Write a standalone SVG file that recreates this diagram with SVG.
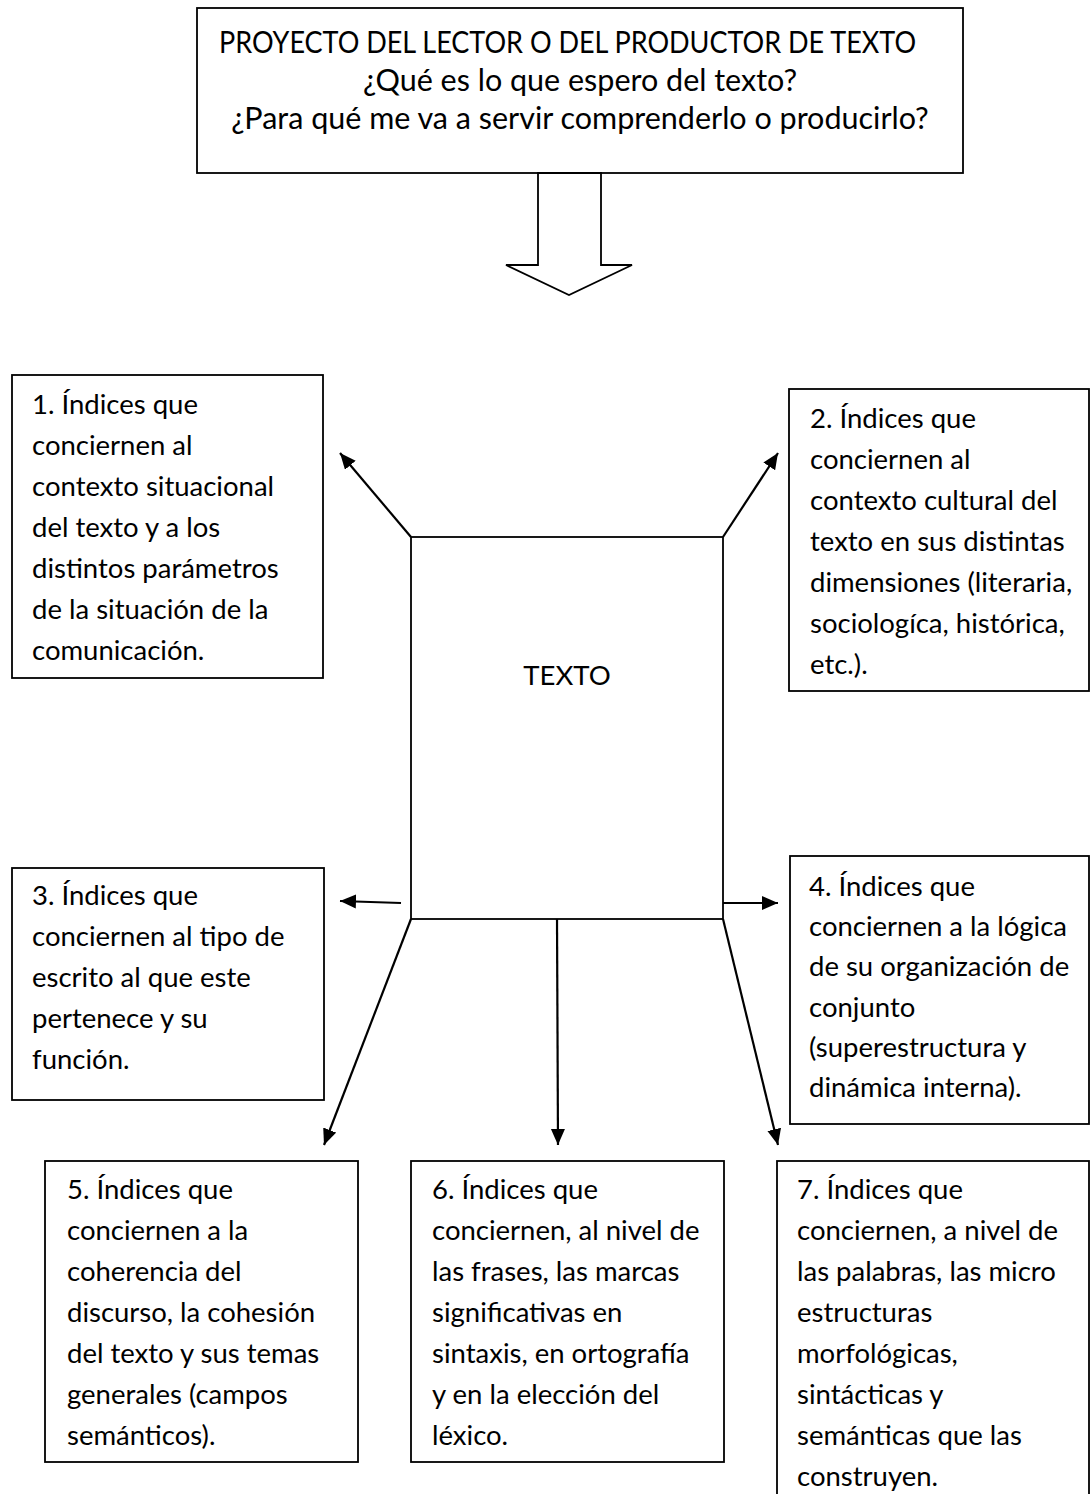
<svg xmlns="http://www.w3.org/2000/svg" width="1091" height="1494" viewBox="0 0 1091 1494">
<style>
.box{fill:#fff;stroke:#000;stroke-width:1.8}
.t{font-family:Lato,"Liberation Sans",sans-serif;font-size:27.5px;fill:#000}
.h{font-family:Lato,"Liberation Sans",sans-serif;font-size:30.5px;fill:#000}
.c{stroke:#000;stroke-width:2.2;fill:none}
</style>
<defs>
<marker id="ah" markerUnits="userSpaceOnUse" markerWidth="18" markerHeight="16" refX="16" refY="7" orient="auto" viewBox="0 0 18 16">
<path d="M0,0 L16,7 L0,14 z" fill="#000"/>
</marker>
</defs>
<rect width="1091" height="1494" fill="#fff"/>

<g id="proyecto">
<rect class="box" x="197" y="8" width="766" height="165"/>
<text class="h" x="219" y="53" textLength="697" lengthAdjust="spacingAndGlyphs">PROYECTO DEL LECTOR O DEL PRODUCTOR DE TEXTO</text>
<text class="h" x="580" y="91" text-anchor="middle">¿Qué es lo que espero del texto?</text>
<text class="h" x="580" y="129" text-anchor="middle">¿Para qué me va a servir comprenderlo o producirlo?</text>
</g>

<g id="flecha-grande">
<polygon class="box" points="538,173 601,173 601,265 632,265 569,295 506,265 538,265"/>
</g>

<g id="texto">
<rect class="box" x="411" y="537" width="312" height="382"/>
<text class="t" x="567" y="685" text-anchor="middle">TEXTO</text>
</g>

<g id="n1">
<rect class="box" x="12" y="375" width="311" height="303"/>
<text class="t"><tspan x="32" y="414">1. Índices que</tspan><tspan x="32" y="455">conciernen al</tspan><tspan x="32" y="496">contexto situacional</tspan><tspan x="32" y="537">del texto y a los</tspan><tspan x="32" y="578">distintos parámetros</tspan><tspan x="32" y="619">de la situación de la</tspan><tspan x="32" y="660">comunicación.</tspan></text>
</g>

<g id="n2">
<rect class="box" x="789" y="389" width="300" height="302"/>
<text class="t"><tspan x="810" y="428">2. Índices que</tspan><tspan x="810" y="469">conciernen al</tspan><tspan x="810" y="510">contexto cultural del</tspan><tspan x="810" y="551">texto en sus distintas</tspan><tspan x="810" y="592">dimensiones (literaria,</tspan><tspan x="810" y="633">sociologíca, histórica,</tspan><tspan x="810" y="674">etc.).</tspan></text>
</g>

<g id="n3">
<rect class="box" x="12" y="868" width="312" height="232"/>
<text class="t"><tspan x="32" y="905">3. Índices que</tspan><tspan x="32" y="946">conciernen al tipo de</tspan><tspan x="32" y="987">escrito al que este</tspan><tspan x="32" y="1028">pertenece y su</tspan><tspan x="32" y="1069">función.</tspan></text>
</g>

<g id="n4">
<rect class="box" x="790" y="856" width="299" height="268"/>
<text class="t"><tspan x="809" y="896">4. Índices que</tspan><tspan x="809" y="936">conciernen a la lógica</tspan><tspan x="809" y="976">de su organización de</tspan><tspan x="809" y="1017">conjunto</tspan><tspan x="809" y="1057">(superestructura y</tspan><tspan x="809" y="1097">dinámica interna).</tspan></text>
</g>

<g id="n5">
<rect class="box" x="45" y="1161" width="313" height="301"/>
<text class="t"><tspan x="67" y="1199">5. Índices que</tspan><tspan x="67" y="1240">conciernen a la</tspan><tspan x="67" y="1281">coherencia del</tspan><tspan x="67" y="1322">discurso, la cohesión</tspan><tspan x="67" y="1363">del texto y sus temas</tspan><tspan x="67" y="1404">generales (campos</tspan><tspan x="67" y="1445">semánticos).</tspan></text>
</g>

<g id="n6">
<rect class="box" x="411" y="1161" width="313" height="301"/>
<text class="t"><tspan x="432" y="1199">6. Índices que</tspan><tspan x="432" y="1240">conciernen, al nivel de</tspan><tspan x="432" y="1281">las frases, las marcas</tspan><tspan x="432" y="1322">significativas en</tspan><tspan x="432" y="1363">sintaxis, en ortografía</tspan><tspan x="432" y="1404">y en la elección del</tspan><tspan x="432" y="1445">léxico.</tspan></text>
</g>

<g id="n7">
<rect class="box" x="777" y="1161" width="312" height="345"/>
<text class="t"><tspan x="797" y="1199">7. Índices que</tspan><tspan x="797" y="1240">conciernen, a nivel de</tspan><tspan x="797" y="1281">las palabras, las micro</tspan><tspan x="797" y="1322">estructuras</tspan><tspan x="797" y="1363">morfológicas,</tspan><tspan x="797" y="1404">sintácticas y</tspan><tspan x="797" y="1445">semánticas que las</tspan><tspan x="797" y="1486">construyen.</tspan></text>
</g>

<g id="connectors">
<line class="c" x1="411" y1="537" x2="340" y2="453" marker-end="url(#ah)"/>
<line class="c" x1="723" y1="537" x2="778" y2="453" marker-end="url(#ah)"/>
<line class="c" x1="401" y1="903" x2="340" y2="901" marker-end="url(#ah)"/>
<line class="c" x1="723" y1="903" x2="778" y2="903" marker-end="url(#ah)"/>
<line class="c" x1="411" y1="919" x2="324" y2="1145" marker-end="url(#ah)"/>
<line class="c" x1="557" y1="919" x2="558" y2="1145" marker-end="url(#ah)"/>
<line class="c" x1="723" y1="919" x2="778" y2="1145" marker-end="url(#ah)"/>
</g>
</svg>
